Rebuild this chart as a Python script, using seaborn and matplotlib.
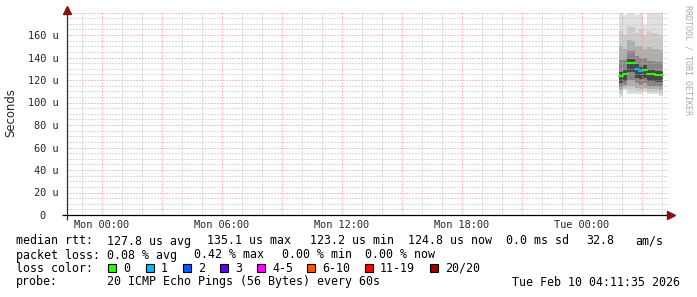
import numpy as np
import pandas as pd
import matplotlib
matplotlib.use("Agg")
import matplotlib.pyplot as plt
import seaborn as sns
from matplotlib.patches import Rectangle

# ---------------- data ----------------
# start of each 12-minute column, hours after Mon 00:00
col_start_h = [25.85, 26.05, 26.25, 26.45, 26.65, 26.85, 27.05, 27.25, 27.45, 27.65, 27.85]
col_width_h = 0.2
median_us = [123.2, 125.0, 135.1, 135.1, 130.0, 128.3, 129.2, 125.6, 125.5, 124.8, 124.8]
loss_cnt = [0, 0, 0, 0, 1, 1, 0, 0, 0, 0, 0]

smoke_max = [182, 178, 182, 182, 178, 182, 169, 182, 182, 182, 182]
smoke_q1hi = [164, 160, 168, 167, 162, 165, 160, 164, 162, 162, 160]
smoke_q2hi = [150, 148, 156, 155, 150, 150, 148, 149, 148, 148, 147]
smoke_q3hi = [138, 138, 146, 146, 141, 140, 140, 137, 137, 136, 136]
smoke_q4hi = [127, 129, 139, 139, 134, 132, 133, 129, 129, 128, 128]
smoke_q4lo = [117, 119, 127, 127, 122, 121, 122, 119, 119, 118, 118]
smoke_q3lo = [114, 116, 120, 120, 117, 116, 117, 115, 115, 115, 114]
smoke_q2lo = [111, 114, 115, 115, 113, 112, 113, 112, 112, 112, 111]
smoke_q1lo = [108, 112, 111, 111, 110, 110, 111, 109, 109, 109, 108]
smoke_min = [105, 111, 108, 108, 108, 108, 109, 108, 108, 108, 106]

x_tick_hours = [0, 6, 12, 18, 24]
x_tick_labels = ["Mon 00:00", "Mon 06:00", "Mon 12:00", "Mon 18:00", "Tue 00:00"]
y_ticks = [0, 20, 40, 60, 80, 100, 120, 140, 160]
y_tick_labels = ["0  ", "20 u", "40 u", "60 u", "80 u", "100 u", "120 u", "140 u", "160 u"]

loss_labels = ["0", "1", "2", "3", "4-5", "6-10", "11-19", "20/20"]
loss_colors = ["#26ff00", "#00b8ff", "#0059ff", "#5e00ff", "#ff00ff", "#ff5500", "#ff0000", "#a00000"]

row1 = [("median rtt:", 16), ("127.8 us avg", 107), ("135.1 us max", 207), ("123.2 us min", 310),
        ("124.8 us now", 408), ("0.0 ms sd", 506), ("32.8", 586), ("am/s", 635)]
row2 = [("packet loss:", 16), ("0.08 % avg", 107), ("0.42 % max", 194), ("0.00 % min", 282),
        ("0.00 % now", 365)]
loss_sq_x = [108, 146, 183, 220, 257, 307, 365, 430]
probe_text = "20 ICMP Echo Pings (56 Bytes) every 60s"
date_text = "Tue Feb 10 04:11:35 2026"

# ---------------- style ----------------
sns.set_style("white")
plt.rcParams["font.family"] = ["DejaVu Sans Mono", "DejaVu Sans"]

W, H = 697, 297
fig = plt.figure(figsize=(W / 100, H / 100), dpi=100)
fig.patch.set_facecolor("white")
ax_l, ax_r, ax_t, ax_b = 67, 668, 12.5, 215
ax = fig.add_axes([ax_l / W, 1 - ax_b / H, (ax_r - ax_l) / W, (ax_b - ax_t) / H])
ax.set_facecolor("white")

px_per_h = 20.0
x0 = -(102 - ax_l) / px_per_h
x1 = x0 + (ax_r - ax_l) / px_per_h
ax.set_xlim(x0, x1)
ax.set_ylim(0, 180)

# smoke
edges = list(col_start_h) + [col_start_h[-1] + col_width_h]
def ext(a):
    return list(a) + [a[-1]]
bands = [(smoke_min, smoke_max, "#e0e0e0"),
         (smoke_q1lo, smoke_q1hi, "#cccccc"),
         (smoke_q2lo, smoke_q2hi, "#aeaeae"),
         (smoke_q3lo, smoke_q3hi, "#868686"),
         (smoke_q4lo, smoke_q4hi, "#484848")]
for lo, hi, c in bands:
    ax.fill_between(edges, ext(lo), ext(hi), step="post", color=c, linewidth=0, zorder=1)

# grid (1px dotted)
gray = "#b8b8b8"
red = "#f08888"
gkw = dict(ls=(0, (1, 2)), lw=0.72, zorder=2)
for h in range(-1, 29):
    if h % 3 != 0:
        ax.axvline(h, color=gray, **gkw)
for v in range(5, 181, 5):
    if v % 20 != 0:
        ax.axhline(v, color=gray, **gkw)
for h in range(0, 29, 3):
    ax.axvline(h, color=red, **gkw)
for v in range(20, 181, 20):
    ax.axhline(v, color=red, **gkw)

# median line via seaborn
rows = []
for i, (t, m, l) in enumerate(zip(col_start_h, median_us, loss_cnt)):
    rows.append({"t": t, "rtt": m, "col": i, "loss": str(l)})
    rows.append({"t": t + col_width_h, "rtt": m, "col": i, "loss": str(l)})
df = pd.DataFrame(rows)
pal = {str(i): c for i, c in enumerate(loss_colors[:4])}
sns.lineplot(data=df, x="t", y="rtt", units="col", estimator=None, hue="loss",
             palette={k: pal[k] for k in df["loss"].unique()}, linewidth=1.5,
             legend=False, ax=ax, zorder=4)
ax.set_xlabel("")
ax.set_ylabel("")

# axes
for s in ax.spines.values():
    s.set_visible(False)
ax.plot([x0 - 5 / px_per_h, x1 + 2 / px_per_h], [0, 0], color="#000000", lw=0.9,
        clip_on=False, zorder=5, solid_capstyle="butt")
ax.plot([x0, x0], [-5 / 1.125, 182], color="#303030", lw=0.9, clip_on=False, zorder=5,
        solid_capstyle="butt")
ax.plot([x0], [(ax_b - 10) / 1.125], marker="^", ms=5.5, color="#8b1010", mec="#8b1010",
        clip_on=False, zorder=6)
ax.plot([x1 + 3.2 / px_per_h], [0], marker=">", ms=5.5, color="#8b1010", mec="#8b1010",
        clip_on=False, zorder=6)

ax.set_xticks(x_tick_hours)
ax.set_xticklabels(x_tick_labels, fontsize=7.35, family="DejaVu Sans Mono")
ax.set_yticks(y_ticks)
ax.set_yticklabels(y_tick_labels, fontsize=7.35, family="DejaVu Sans Mono")
ax.tick_params(axis="x", length=0, pad=3.6)
ax.tick_params(axis="y", length=0, pad=6.3)

# y label
fig.text(11 / W, 1 - 113 / H, "Seconds", rotation=90, ha="center", va="center",
         fontsize=8.4, family="DejaVu Sans")

# watermark
fig.text(688 / W, 1 - 60 / H, "RRDTOOL / TOBI OETIKER", rotation=270, ha="center",
         va="center", fontsize=6, color="#aaaaaa", family="DejaVu Sans Mono")

# legend text
fs = 8.4
def put(txt, x, y, ha="left"):
    fig.text(x / W, 1 - y / H, txt, ha=ha, va="center", fontsize=fs,
             family="DejaVu Sans Mono", color="black")

for txt, x in row1:
    put(txt, x, 241)
for txt, x in row2:
    put(txt, x, 255)
put("loss color:", 16, 268)
for lab, col, x in zip(loss_labels, loss_colors, loss_sq_x):
    fig.add_artist(Rectangle((x / W, 1 - 272 / H), 8 / W, 8 / H, transform=fig.transFigure,
                             facecolor=col, edgecolor="black", linewidth=0.8))
    put(lab, x + 15, 268)
put("probe:", 16, 282)
put(probe_text, 107, 282)
put(date_text, 680, 282, ha="right")

fig.savefig("out.png", dpi=100, facecolor="white")
